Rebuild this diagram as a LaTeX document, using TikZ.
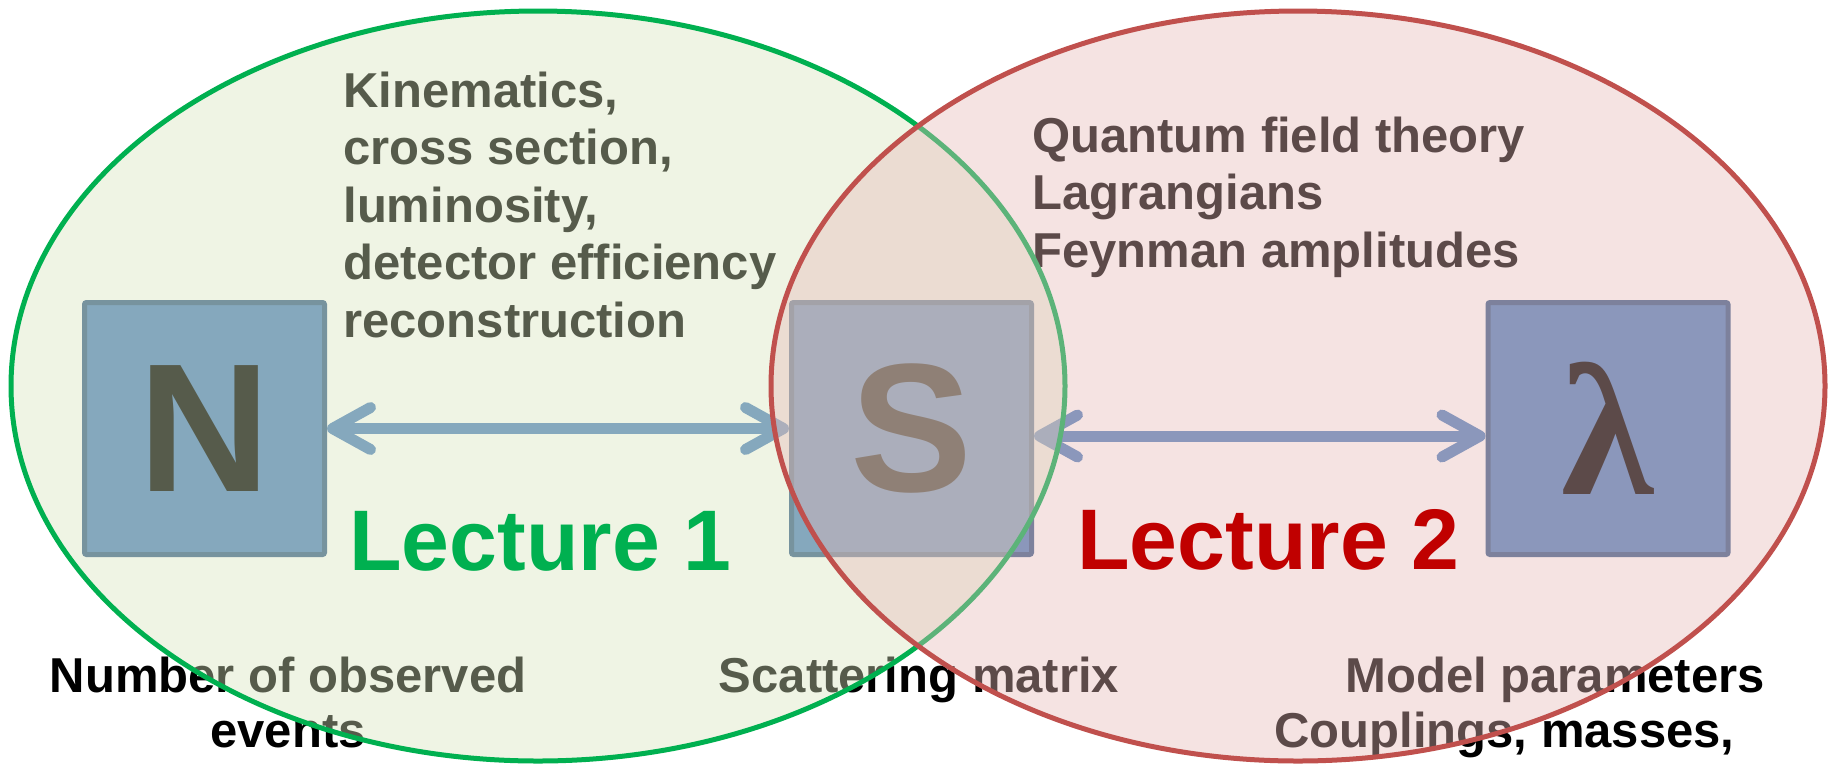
\documentclass[tikz,border=0pt]{standalone}
\usepackage{fontspec}
\setmainfont{Liberation Sans}
\newfontfamily\lambdafont{Liberation Serif}
\usetikzlibrary{arrows.meta}

\definecolor{Cgreenring}{HTML}{00B050}
\definecolor{Cgreenfill}{HTML}{D7E4BD}
\definecolor{Credring}{HTML}{C0504D}
\definecolor{Credfill}{HTML}{E6B9B8}
\definecolor{Cboxfill}{HTML}{4F81BD}
\definecolor{Cboxline}{HTML}{385D8A}
\definecolor{Clecone}{HTML}{00B050}
\definecolor{Clectwo}{HTML}{C00000}

\tikzset{
	qbox/.style={draw=Cboxline,fill=Cboxfill,line width=2.5pt,rounded corners=1pt,
		minimum width=120pt,minimum height=126pt,inner sep=0pt,
		font=\fontsize{91.5}{100}\selectfont\bfseries},
	dblarrow/.style={Cboxfill,line width=5.5pt,
		{Straight Barb[round,length=19pt,width=21pt]}-{Straight Barb[round,length=19pt,width=21pt]}},
	bodytext/.style={inner sep=0pt,font=\fontsize{24.5}{28.75}\selectfont\bfseries},
	lecture/.style={inner sep=0pt,font=\fontsize{43}{50}\selectfont\bfseries}
}

\begin{document}
\begin{tikzpicture}[x=0.5pt,y=-0.5pt]
	\fill[white] (0,0) rectangle (1831,767);
	\useasboundingbox (0,0) rectangle (1831,767);

	% the three quantities
	\node[qbox] (N) at (204.5,428.5) {N};
	\node[qbox] (S) at (911.5,428.5) {S};
	\node[qbox,font=\fontsize{94}{100}\selectfont\lambdafont\bfseries] (L) at (1608,428.5) {λ};

	\draw[dblarrow] (N) -- (S);
	\draw[dblarrow] ([yshift=-3.75pt]S.east) -- ([yshift=-3.75pt]L.west);

	% texts under the rings (base = last line)
	\node[bodytext,align=left,anchor=base west] (exptext) at (343,337)
		{Kinematics,\\cross section,\\luminosity,\\detector efficiency\\reconstruction};
	\node[bodytext,align=left,anchor=base west] (theotext) at (1032,267)
		{Quantum field theory\\Lagrangians\\Feynman amplitudes};
	\node[bodytext,align=center,anchor=base,font=\fontsize{24.5}{27.5}\selectfont\bfseries] (Nname) at (288,747)
		{Number of observed\\events};
	\node[bodytext,anchor=base] (Sname) at (919,692) {Scattering matrix};
	\node[bodytext,anchor=base west] (Lname) at (1345,692) {Model parameters};
	\node[bodytext,anchor=base west] (Lsub) at (1274,747) {Couplings, masses,};

	% the two rings
	\draw[Cgreenring,line width=2.5pt,fill=Cgreenfill,fill opacity=0.4]
		(538,386) ellipse [x radius=263.5pt,y radius=187.5pt];
	\draw[Credring,line width=2.5pt,fill=Credfill,fill opacity=0.4]
		(1298,386) ellipse [x radius=263.5pt,y radius=187.5pt];

	\node[lecture,Clecone,anchor=base west] (lecone) at (349,570) {Lecture 1};
	\node[lecture,Clectwo,anchor=base west] (lectwo) at (1077,569) {Lecture 2};
\end{tikzpicture}
\end{document}
